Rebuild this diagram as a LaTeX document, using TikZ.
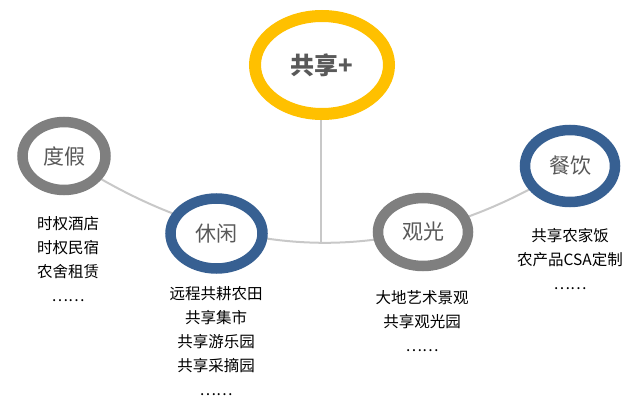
\documentclass[tikz,border=0pt]{standalone}
\usepackage{fontspec}
\setmainfont{Noto Sans CJK SC}
\usetikzlibrary{shapes.geometric}
\definecolor{gold}{HTML}{FFC000}
\definecolor{ringblue}{HTML}{376092}
\definecolor{ringgray}{HTML}{7F7F7F}
\definecolor{linkgray}{HTML}{C8C8C8}
\definecolor{labgray}{HTML}{595959}
\begin{document}
\begin{tikzpicture}[x=1pt,y=-1pt,
  ring/.style={ellipse,fill=white,inner sep=0pt,line width=10.5pt,
    font=\fontsize{21}{24}\selectfont,text=labgray},
  listtext/.style={align=center,font=\fontsize{15.5}{24}\selectfont,text=black,inner sep=0pt},
  link/.style={draw=linkgray,line width=2pt}]
\useasboundingbox (0,0) rectangle (644,404);
% anchor coordinates
\coordinate (dujiaC) at (64,156);
\coordinate (canyinC) at (570,166);
\coordinate (hub) at (321,242);
% connectors (behind rings)
\draw[link] (dujiaC) .. controls (234,270) and (405,270) .. (canyinC);
\draw[link] (321,65) -- (hub);
% rings
\node[ring,draw=gold,line width=12pt,minimum width=134pt,minimum height=98pt,
  font=\bfseries\fontsize{24}{26}\selectfont] (gx) at (322,65) {共享+};
\node[ring,draw=ringgray,minimum width=83pt,minimum height=68pt] (dujia) at (dujiaC) {度假};
\node[ring,draw=ringblue,minimum width=92pt,minimum height=70pt] (xiuxian) at (216.5,233.5) {休闲};
\node[ring,draw=ringgray,minimum width=90pt,minimum height=68pt] (guanguang) at (423,232) {观光};
\node[ring,draw=ringblue,minimum width=90pt,minimum height=72pt] (canyin) at (canyinC) {餐饮};
% lists
\node[listtext,anchor=north] (l1) at (68,216) {时权酒店\\时权民宿\\农舍租赁\\……};
\node[listtext,anchor=north] (l2) at (216,286) {远程共耕农田\\共享集市\\共享游乐园\\共享采摘园\\……};
\node[listtext,anchor=north] (l3) at (422,290) {大地艺术景观\\共享观光园\\……};
\node[listtext,anchor=north] (l4) at (570,228) {共享农家饭\\农产品CSA定制\\……};
\end{tikzpicture}
\end{document}
